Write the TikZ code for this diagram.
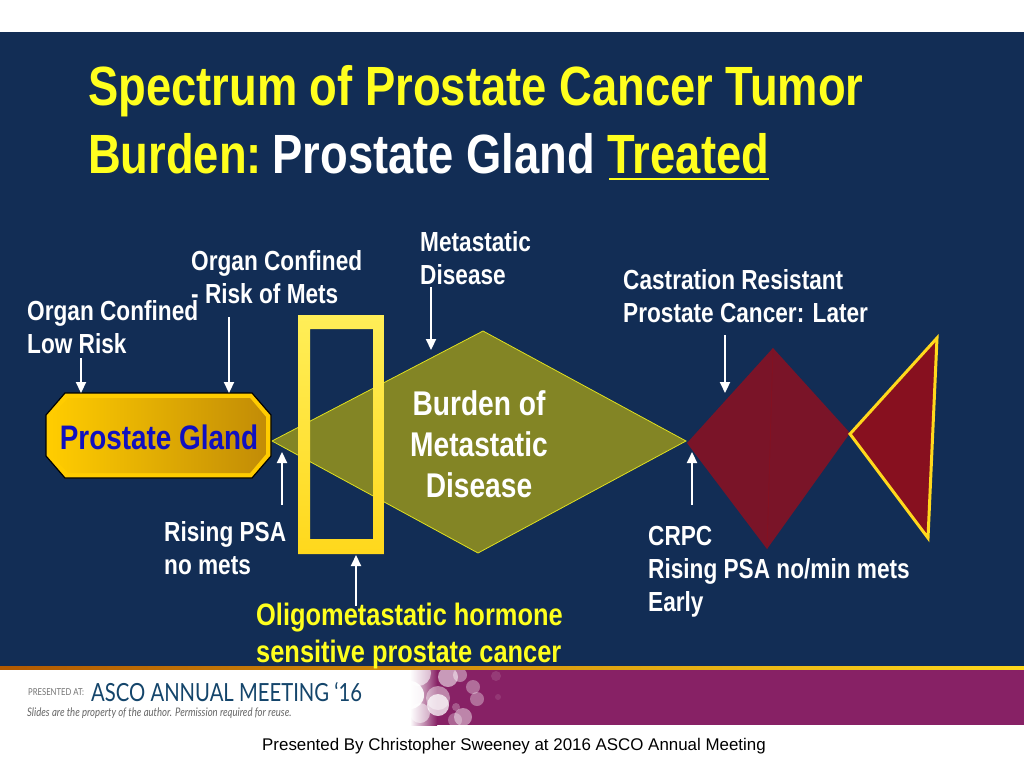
\documentclass[tikz,border=0pt]{standalone}
\usepackage{fontspec}
\usepackage{tikz}
\setmainfont{Liberation Sans}[FakeStretch=0.82]
\newfontfamily\plainfont{Liberation Sans}
\newfontfamily\bandfont{Lato}[FakeStretch=0.81]
\definecolor{slidenavy}{HTML}{122D55}
\definecolor{slideyellow}{HTML}{FFFF1E}
\definecolor{olivefill}{HTML}{838525}
\definecolor{winefill}{HTML}{7A1428}
\definecolor{redfill}{HTML}{87101F}
\definecolor{bandpurple}{HTML}{872165}
\definecolor{ascoblue}{HTML}{14456B}
\definecolor{frametop}{HTML}{FFEE58}
\definecolor{framelow}{HTML}{FFD81C}
\definecolor{goldlight}{HTML}{FFCC00}
\definecolor{golddark}{HTML}{C28C06}
\usetikzlibrary{positioning,arrows.meta}

\begin{document}
\begin{tikzpicture}[x=1pt, y=-1pt,
    label/.style={text=white, font=\fontsize{27.6}{33}\selectfont\bfseries, align=left, anchor=north west, inner sep=0pt},
    oligo/.style={label, text=slideyellow, font=\fontsize{31}{37}\selectfont\bfseries},
    title/.style={text=slideyellow, font=\fontsize{55.3}{62}\selectfont\bfseries, anchor=west, inner sep=0pt},
    pointer/.style={draw=white, line width=2.2pt, -{Triangle[width=10pt,length=11pt]}},
    bubble/.style={fill=white, draw=none}]

    \useasboundingbox (0,0) rectangle (1024,768);
    \fill[white] (0,0) rectangle (1024,768);
    \fill[slidenavy] (0,32) rectangle (1024,667);

    % footer band
    \fill[white] (0,669) rectangle (410,725);
    \shade[left color=white, right color=bandpurple] (410,669) rectangle (437,725);
    \fill[bandpurple] (437,669) rectangle (1024,725);
    \begin{scope}
        \clip (360,669) rectangle (540,725);
        \fill[bubble, opacity=.9] (410,695) circle (14);
        \fill[bubble, opacity=.45] (438,698) circle (12);
        \fill[bubble, opacity=.75] (438,705) circle (11);
        \fill[bubble, opacity=.55] (448,677) circle (10);
        \fill[bubble, opacity=.4] (460,675) circle (7);
        \fill[bubble, opacity=.35] (473,687) circle (7);
        \fill[bubble, opacity=.35] (477,699) circle (7);
        \fill[bubble, opacity=.45] (463,717) circle (9);
        \fill[bubble, opacity=.3] (455,720) circle (7);
        \fill[bubble, opacity=.5] (420,713) circle (10);
        \fill[bubble, opacity=.6] (418,673) circle (13);
        \fill[bubble, opacity=.12] (496,676) circle (5);
        \fill[bubble, opacity=.25] (456,707) circle (4);
        \fill[bubble, opacity=.1] (498,697) circle (3);
    \end{scope}
    \fill[left color=orange!70!black, right color=framelow] (0,666.5) rectangle (1024,669);

    \node[title] (titleone) at (88,91) {Spectrum of Prostate Cancer Tumor};
    \node[title] (titletwo) at (88,154) {Burden:\hspace*{-2pt} \textcolor{white}{Prostate Gland} Treated};
    \coordinate (ulstart) at (609,179);
    \coordinate (ulend) at (769,179);
    \draw[slideyellow, line width=2pt] (ulstart) -- (ulend);

    % shapes
    \coordinate (bl) at (272,441);
    \coordinate (bt) at (483,331);
    \coordinate (br) at (686,441);
    \coordinate (bb) at (478,553);
    \draw[fill=olivefill, draw=slideyellow!75!olivefill, line width=.8pt] (bl) -- (bt) -- (br) -- (bb) -- cycle;

    \coordinate (cl) at (687,443);
    \coordinate (ct) at (773,348);
    \coordinate (cr) at (850,433);
    \coordinate (cb) at (767,549);
    \fill[winefill] (cl) -- (ct) -- (cr) -- (cb) -- cycle;
    \draw[redfill, line width=.5pt] (ct) -- (cb);

    \coordinate (tl) at (850,434);
    \coordinate (tt) at (937,338);
    \coordinate (tb) at (928,538);
    \draw[fill=redfill, draw=framelow, line width=3pt, line join=miter] (tl) -- (tt) -- (tb) -- cycle;

    \shade[even odd rule, top color=frametop, bottom color=framelow]
        (298,315) rectangle (384,554) (310,329) rectangle (373,539);

    \draw[black, line width=1.2pt, fill=goldlight]
        (65,393) -- (252,393) -- (271,415) -- (271,456) -- (252,478) -- (65,478) -- (46,456) -- (46,415) -- cycle;
    \shade[left color=goldlight, right color=golddark]
        (68,398) -- (250,398) -- (266,417) -- (266,454) -- (250,473) -- (68,473) -- (51,454) -- (51,417) -- cycle;
    \node[inner sep=0pt, text={rgb,255:red,16;green,16;blue,192}, font=\fontsize{34}{36}\selectfont\bfseries] (gland) at (159,437) {Prostate Gland};

    \node[inner sep=0pt, text=white, align=center, font=\fontsize{34.3}{41}\selectfont\bfseries] (burden) at (479,444) {Burden of\\Metastatic\\Disease};

    % labels
    \node[label] (lowrisk) at (27,300) {Organ Confined\\Low Risk};
    \node[label] (metrisk) at (191,250) {Organ Confined\\- Risk of Mets};
    \node[label] (metdis) at (420,231) {Metastatic\\Disease};
    \node[label] (later) at (623,269) {Castration Resistant\\Prostate Cancer: Later};
    \node[label] (nomets) at (164,521) {Rising PSA\\no mets};
    \node[label] (crpc) at (648,526) {CRPC\\Rising PSA no/min mets\\Early};
    \node[oligo] (oligotext) at (256,603) {Oligometastatic hormone\\sensitive prostate cancer};

    % pointers
    \coordinate (pa) at (81,358);   \coordinate (pA) at (81,393);
    \coordinate (pb) at (229,317);  \coordinate (pB) at (229,393);
    \coordinate (pc) at (282,505);  \coordinate (pC) at (282,452);
    \coordinate (pd) at (356,606);  \coordinate (pD) at (356,555);
    \coordinate (pe) at (431,287);  \coordinate (pE) at (431,350);
    \coordinate (pf) at (725,335);  \coordinate (pF) at (725,393);
    \coordinate (pg) at (692,505);  \coordinate (pG) at (692,452);
    \draw[pointer] (pa) -- (pA);
    \draw[pointer] (pb) -- (pB);
    \draw[pointer] (pc) -- (pC);
    \draw[pointer] (pd) -- (pD);
    \draw[pointer] (pe) -- (pE);
    \draw[pointer] (pf) -- (pF);
    \draw[pointer] (pg) -- (pG);

    % footer text
    \node[anchor=west, inner sep=0pt, text=ascoblue, font=\bandfont\fontsize{25}{30}\selectfont] (asco) at (91,692) {ASCO ANNUAL MEETING ‘16};
    \node[anchor=west, inner sep=0pt, text=black!55, font=\bandfont\fontsize{9.5}{10}\selectfont] (presented) at (28,692) {PRESENTED AT:};
    \node[anchor=west, inner sep=0pt, text=black!60, font=\bandfont\fontsize{11.8}{13}\selectfont\itshape] (rights) at (27,713) {Slides are the property of the author. Permission required for reuse.};
    \node[anchor=west, inner sep=0pt, text=black, font=\plainfont\fontsize{16.9}{18}\selectfont] (byline) at (262,746) {Presented By Christopher Sweeney at 2016 ASCO Annual Meeting};

\end{tikzpicture}
\end{document}
